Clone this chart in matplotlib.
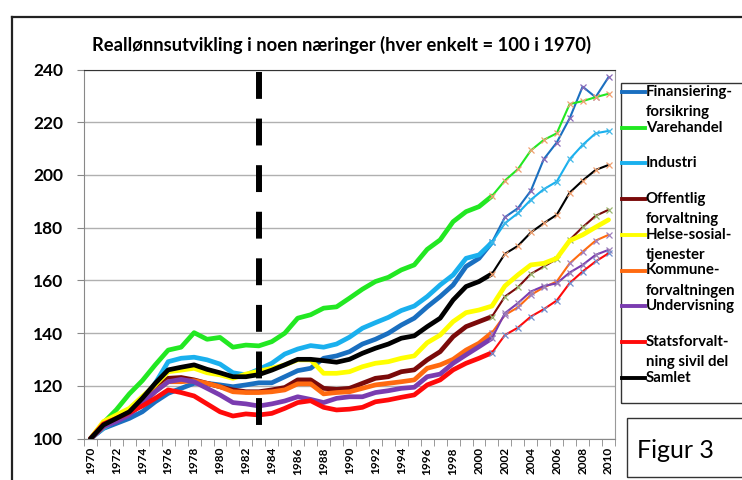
import matplotlib
matplotlib.use("Agg")
import matplotlib.pyplot as plt
from matplotlib.lines import Line2D
from matplotlib.patches import Rectangle

plt.rcParams['font.family'] = ['Lato', 'DejaVu Sans']

years = list(range(1970, 2011))

finans = [100, 103.9, 105.8, 107.7, 110.2, 114, 117.2, 119.1, 121, 121, 120.4, 119.7, 120.4, 121.2,
          121.2, 123.5, 125.8, 126.7, 130.5, 131.4, 133, 135.9, 137.7, 140, 143.1, 145.7, 150, 153.9,
          158.3, 165.3, 168.4, 174.5, 184, 187.4, 194, 206, 212.3, 221.5, 233.5, 229.5, 237.1]
varehandel = [100, 106, 111, 117, 122, 128, 133.6, 134.7, 140.2, 137.7, 138.4, 134.7, 135.5, 135.2,
              136.8, 140, 145.7, 147, 149.5, 150, 153.3, 156.7, 159.6, 161.2, 164, 165.9, 171.8, 175.4,
              182.3, 186.1, 188, 192, 197.9, 202.2, 209.3, 213.3, 215.8, 226.9, 228, 229.5, 230.8]
industri = [100, 104, 107, 110, 114, 121, 129.2, 130.5, 130.9, 129.9, 128.3, 125, 124.2, 126.3,
            128.6, 132.1, 134, 135.3, 134.7, 135.9, 138.5, 141.9, 144, 146, 148.6, 150.3, 153.9, 158.3,
            162.1, 168.4, 169.7, 174.4, 181.7, 185.5, 190.6, 194.6, 197.5, 206, 211.4, 215.8, 216.7]
offentlig = [100, 105, 107.5, 110, 114, 119, 122.9, 123.2, 122.3, 121, 119.7, 118.5, 117.8, 117.8,
             118.5, 119.4, 122.3, 122.3, 119.1, 118.7, 119.1, 121, 122.9, 123.5, 125.4, 126.1, 129.9, 133,
             138.7, 142.5, 144.4, 146.3, 153.9, 157.4, 162.5, 165.3, 168.1, 175.4, 180.2, 184.5, 186.8]
helse = [100, 106.5, 109, 111.5, 116, 120.4, 125.4, 126, 126.7, 125, 124.2, 122.9, 124.5, 125.6,
         126.7, 128, 129.9, 129.9, 124.8, 124.8, 125.4, 127.3, 128.6, 129.2, 130.5, 131.4, 136.4, 139.3,
         144.4, 147.8, 148.8, 150.3, 157.9, 162.1, 165.9, 166.5, 168.4, 175.1, 177.3, 180.2, 183]
kommune = [100, 104.5, 107, 109.5, 113, 118, 121.6, 121.6, 122, 121, 119.7, 117.8, 117.5, 117.5,
           117.8, 118.5, 120.8, 120.8, 117, 117.5, 117.8, 119.1, 120.4, 121, 121.6, 122.3, 126.7, 128,
           130.1, 133.6, 136.2, 140.2, 146.9, 149.8, 154.5, 157.4, 159.6, 166.5, 170.9, 175.1, 177.3]
undervisning = [100, 104.6, 106.5, 109, 113.4, 117.8, 121.6, 122.5, 121.6, 119.1, 116.6, 113.7, 113.2, 112.4,
                113.2, 114.3, 115.9, 114.9, 113.7, 115.3, 115.9, 115.9, 117.5, 118.2, 119.1, 119.5, 123.5, 124.5,
                128.6, 131.8, 134.9, 138.1, 147.6, 151.4, 155.8, 157.9, 158.9, 163, 165.9, 169.7, 171.6]
stats = [100, 105.6, 107.7, 109.9, 112.4, 115.3, 118.5, 117.5, 116.2, 113.2, 110.2, 108.6, 109.4, 109,
         109.6, 111.5, 113.7, 114.4, 111.9, 110.9, 111.2, 111.9, 114, 114.7, 115.7, 116.6, 120.4, 122.3,
         126.1, 128.6, 130.5, 132.6, 139.3, 142.1, 146.3, 149.1, 152.4, 159, 163.4, 167.2, 170.3]
samlet = [100, 105.2, 107.7, 110.2, 115.3, 121, 126.1, 127.1, 128, 126.3, 125, 123.5, 123.5, 124.3,
          126, 128, 130.1, 130.1, 129.6, 129, 130.1, 132.4, 134.3, 135.9, 138.1, 139, 142.5, 145.7,
          152.6, 157.7, 159.6, 162.5, 170.1, 173.1, 178.2, 181.7, 184.9, 193.3, 197.9, 201.9, 203.8]

labels = ["Finansiering-\nforsikring", "Varehandel", "Industri", "Offentlig\nforvaltning",
          "Helse-sosial-\ntjenester", "Kommune-\nforvaltningen", "Undervisning",
          "Statsforvalt-\nning sivil del", "Samlet"]
series = [finans, varehandel, industri, offentlig, helse, kommune, undervisning, stats, samlet]
colors = ['#1a6fc0', '#22e822', '#1ab0ee', '#7a0a0a', '#ffff00', '#ff6a10', '#7a3cb0', '#ff0a0a', '#000000']
mcolors = ['#8a6ab8', '#f0a070', '#40b8e8', '#9ab870', None, '#a080c0', '#9a80b8', '#7090d0', '#f0a070']

split_year = 2001
cut_year = 1983

W, H = 742, 480
fig = plt.figure(figsize=(W / 100, H / 100), dpi=100)
ax = fig.add_axes([84 / W, 1 - 438.7 / H, (615 - 84) / W, (438.7 - 69.5) / H])

i0 = years.index(split_year)
for vals, c, mc in zip(series, colors, mcolors):
    if mc is None:
        ax.plot(years, vals, color=c, lw=3.4, solid_capstyle='round', zorder=3)
    else:
        ax.plot(years[:i0 + 1], vals[:i0 + 1], color=c, lw=3.4, solid_capstyle='round', zorder=3)
        ax.plot(years[i0:], vals[i0:], color=c, lw=1.5, zorder=3,
                marker='x', ms=4, mec=mc, mew=0.9)

# vertical dashed line, drawn from the top so the dash pattern starts there
ax.plot([cut_year, cut_year], [239, 104], color='black', lw=4.3, dashes=(4.5, 3.3),
        solid_capstyle='butt', zorder=5)

ax.set_xlim(1969.5, 2010.5)
ax.set_ylim(100, 240)
ax.set_yticks(range(100, 241, 20))
# category axis: tick marks between years, labels on every second year
ax.set_xticks([y - 0.5 for y in years] + [years[-1] + 0.5], minor=True)
ax.set_xticks(years[::2])
ax.set_xticklabels([str(y) for y in years[::2]], rotation=90, fontsize=8.5, fontweight='bold')
ax.tick_params(axis='x', which='major', length=0, pad=6)
ax.tick_params(axis='x', which='minor', length=5, color='#888888')
ax.tick_params(axis='y', length=5, color='#888888', labelsize=12.5, pad=10)
for t in ax.get_yticklabels():
    t.set_fontweight('bold')
ax.grid(axis='y', color='#b0b0b0', lw=1)
ax.set_axisbelow(True)
ax.spines['left'].set_color('#888888')
ax.spines['bottom'].set_color('#888888')
ax.spines['top'].set_color('#333333')
ax.spines['right'].set_color('#999999')

fig.text(341 / W, 1 - 45 / H, "Reallønnsutvikling i noen næringer (hver enkelt = 100 i 1970)",
         ha='center', va='center', fontsize=13.2, fontweight='bold')

# outer frame
fig.add_artist(Line2D([12 / W, 12 / W], [0, 1 - 17 / H], color='#222222', lw=1.6))
fig.add_artist(Line2D([12 / W, 1], [1 - 17 / H, 1 - 17 / H], color='#222222', lw=1.6))

# legend box
fig.add_artist(Rectangle((620.5 / W, 1 - 403 / H), 130 / W, (403 - 83) / H,
                         fill=False, ec='#333333', lw=1, transform=fig.transFigure))
y0 = 92
for k, (lab, c) in enumerate(zip(labels, colors)):
    yy = y0 + k * 35.7
    fig.add_artist(Line2D([622 / W, 645 / W], [1 - yy / H, 1 - yy / H], color=c, lw=2.8))
    for j, part in enumerate(lab.split('\n')):
        fig.text(646 / W, 1 - (yy + j * 20) / H, part, ha='left', va='center',
                 fontsize=10.8, fontweight='bold')

# figur box
fig.add_artist(Rectangle((627 / W, 1 - 477 / H), 130 / W, (477 - 418) / H,
                         fill=False, ec='#333333', lw=1, transform=fig.transFigure))
fig.text(637 / W, 1 - 450 / H, "Figur 3", ha='left', va='center', fontsize=18)

fig.savefig('out.png', dpi=100)
